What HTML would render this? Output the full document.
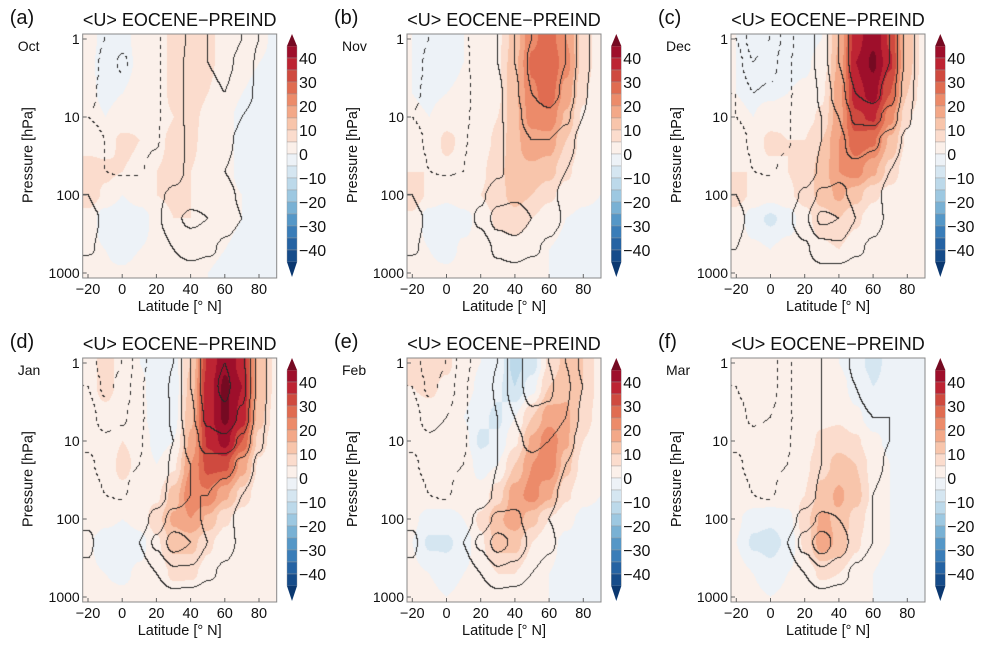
<!DOCTYPE html>
<html><head><meta charset="utf-8">
<style>
html,body{margin:0;padding:0;background:#fff;}
#wrap{position:relative;width:984px;height:654px;overflow:hidden;font-family:"Liberation Sans",sans-serif;}
canvas{position:absolute;}
svg{position:absolute;left:0;top:0;}
</style></head>
<body>
<div id="wrap">
<svg id="ov" width="984" height="654"></svg>
</div>
<script>
// ---- data ----
const lats = [-20,-10,0,10,20,30,40,50,60,70,80,90];
const pressures = [1,2,5,10,20,50,100,200,500,1000];
const panelLabels = ["(a)","(b)","(c)","(d)","(e)","(f)"];
const months = ["Oct","Nov","Dec","Jan","Feb","Mar"];
const xTicks = [-20,0,20,40,60,80];
const yTicks = [1,10,100,1000];
const cbLabels = [40,30,20,10,0,-10,-20,-30,-40];

const anomOct = [
[2,-2,-2,2,3,6,7,6,3,2,1,-1],[1,-2,-2,1,3,6,7,6,3,1,0,-1],[1,-1,0,2,3,6,7,5,2,0,-1,-2],
[2,0,2,4,3,5,6,4,1,-1,-2,-2],[3,3,6,5,4,6,6,3,1,-1,-2,-2],[7,6,5,4,5,6,5,3,1,-1,-2,-2],
[8,4,0,3,5,6,5,3,1,0,-2,-2],[3,-3,-5,-3,2,5,5,3,1,0,-2,-2],[1,0,-3,0,1,2,2,1,0,-1,-1,-1],
[1,1,1,3,1,0,0,0,-1,-1,-1,-1]];
const meanOct = [
[-5,-10,-15,-12,-12,2,12,20,25,20,10,0],[-5,-12,-22,-14,-12,2,14,20,22,18,8,0],[-8,-12,-15,-14,-12,2,14,18,20,15,8,0],
[-10,-12,-14,-14,-12,2,14,16,15,10,5,0],[-5,-10,-12,-13,-11,2,13,14,12,8,4,0],[0,-10,-11,-11,-6,6,12,12,10,7,4,0],
[10,0,-2,2,8,12,15,16,12,9,4,0],[15,8,2,5,8,18,22,20,14,10,4,0],[12,6,2,0,3,10,14,12,8,5,2,0],
[0,-2,-3,0,3,5,6,4,2,1,0,0]];
const anomNov = [
[0,-2,-2,0,2,4,12,24,28,20,8,2],[0,-2,-2,0,2,4,14,26,30,22,8,2],[0,-1,0,1,2,4,14,24,28,18,6,1],
[1,0,3,3,2,5,14,22,24,14,4,0],[2,2,6,4,3,6,14,18,18,10,3,0],[5,5,4,4,4,8,14,14,12,6,2,0],
[8,4,2,4,5,8,12,10,6,3,1,0],[4,-3,-5,-2,2,6,8,5,2,0,-1,-1],[2,0,-2,1,1,3,3,2,0,-1,-1,-1],
[1,1,1,2,1,1,1,0,0,-1,-1,-1]];
const meanNov = [
[-5,-10,-12,-12,-4,10,20,30,35,30,15,0],[-5,-12,-14,-13,-4,10,20,32,36,30,15,0],[-8,-12,-14,-13,-6,8,18,30,34,28,12,0],
[-10,-14,-14,-12,-6,8,16,26,28,22,10,0],[-5,-12,-12,-11,-4,8,14,20,20,15,6,0],[0,-10,-11,-10,-1,8,14,16,14,10,4,0],
[10,0,-2,2,8,16,18,16,12,8,3,0],[15,8,2,5,12,24,26,20,14,9,3,0],[12,6,2,0,4,12,16,12,8,4,1,0],
[0,-2,-3,0,3,6,6,4,2,1,0,0]];
const anomDec = [
[0,-2,-3,-2,-2,0,15,38,44,34,12,3],[0,-2,-3,-2,-1,2,16,40,46,36,12,3],[0,-1,-1,0,1,4,18,38,42,30,10,2],
[1,0,3,4,3,6,18,34,36,22,6,1],[2,3,6,5,5,10,20,28,26,14,4,0],[5,5,4,5,7,12,20,22,16,8,2,0],
[7,4,2,4,7,12,16,12,6,3,1,0],[3,-3,-6,-3,3,8,10,6,2,0,0,0],[2,1,0,2,2,4,5,2,1,0,0,0],
[1,1,1,2,2,2,2,1,0,0,0,0]];
const meanDec = [
[-20,-35,-30,-15,0,15,30,45,50,40,18,0],[-15,-30,-25,-12,0,15,30,45,50,40,18,0],[-10,-20,-18,-12,-2,12,25,40,44,35,15,0],
[-10,-14,-14,-11,-2,10,20,32,34,26,12,0],[-5,-12,-12,-11,-1,10,18,24,22,16,8,0],[0,-10,-11,-8,2,12,18,18,15,10,5,0],
[10,2,-2,4,12,22,22,18,12,8,3,0],[14,6,2,8,18,32,30,20,14,8,3,0],[10,4,2,2,8,16,18,12,8,4,1,0],
[0,-2,-3,0,4,7,6,4,2,1,0,0]];
const anomJan = [
[4,6,4,0,-4,-2,10,36,44,38,14,3],[4,6,4,2,-4,-3,12,38,46,40,14,3],[3,4,3,2,-3,-2,14,38,46,38,12,2],
[2,3,5,4,-2,0,16,36,42,30,8,1],[2,3,6,4,0,4,20,32,32,18,4,0],[4,4,4,3,4,12,24,24,16,8,2,0],
[4,2,0,2,8,16,20,14,6,2,0,0],[1,-4,-5,-2,4,12,12,6,2,0,0,0],[1,0,-1,1,2,6,6,3,1,0,0,0],
[1,1,1,2,2,2,1,1,0,0,0,0]];
const meanJan = [
[-25,-35,-30,-15,-2,10,30,45,50,42,18,0],[-20,-32,-28,-12,0,12,30,46,52,44,18,0],[-15,-25,-22,-12,-2,12,28,42,48,38,15,0],
[-12,-18,-15,-11,-2,10,24,36,38,28,12,0],[-8,-14,-12,-10,0,12,20,26,24,18,8,0],[-2,-10,-11,-6,4,14,20,20,15,10,5,0],
[8,2,-2,4,14,24,24,18,12,8,3,0],[12,4,2,10,22,34,30,20,14,8,3,0],[8,3,2,4,10,18,18,12,8,4,1,0],
[0,-2,-3,0,4,7,6,4,2,1,0,0]];
const anomFeb = [
[6,8,6,2,0,-2,-12,-8,6,12,10,3],[5,6,4,2,-1,-4,-10,-2,10,14,10,3],[3,3,2,0,-4,-6,0,10,18,16,8,2],
[2,2,4,2,-6,-4,4,16,24,16,5,1],[2,3,5,3,-2,0,10,20,24,12,3,0],[3,3,3,2,2,8,18,22,16,6,1,0],
[1,-2,-2,0,6,14,18,12,5,1,-1,-1],[0,-6,-6,-3,4,12,12,5,1,-1,-2,-2],[1,0,-2,0,2,5,5,2,0,-1,-4,-1],
[2,1,0,1,1,1,1,0,0,-1,-1,-1]];
const meanFeb = [
[-25,-35,-30,-15,-2,10,25,35,30,20,8,0],[-20,-32,-28,-12,0,12,25,35,32,22,10,0],[-15,-25,-20,-12,-2,10,20,28,28,20,8,0],
[-12,-18,-15,-11,-2,10,18,22,20,14,6,0],[-8,-14,-12,-10,0,10,16,18,16,10,4,0],[-2,-10,-11,-6,4,12,16,16,12,8,3,0],
[8,2,-2,4,14,22,22,16,10,6,2,0],[12,4,2,10,22,34,28,18,12,6,2,0],[8,3,2,4,10,18,16,10,6,3,1,0],
[0,-2,-3,0,4,7,6,4,2,1,0,0]];
const anomMar = [
[3,3,2,2,4,3,0,-4,-6,-4,-2,-1],[2,2,2,2,3,3,2,-2,-5,-4,-2,-1],[2,2,2,2,3,4,4,1,-2,-2,-1,-1],
[2,2,3,3,3,6,8,6,1,-1,-1,-1],[2,3,5,4,4,8,12,10,3,0,-1,-1],[4,4,4,3,5,12,16,12,4,0,-1,-1],
[1,-3,-4,-2,8,16,14,8,2,0,-1,-1],[0,-6,-7,-4,6,18,14,6,1,0,-2,-1],[2,0,-3,0,2,6,5,2,0,-1,-4,-1],
[3,1,0,1,1,1,1,0,0,-1,-1,-1]];
const meanMar = [
[-25,-30,-25,-12,0,10,15,8,5,8,8,0],[-20,-28,-25,-12,0,10,15,10,6,8,8,0],[-15,-22,-20,-12,-2,10,14,12,10,10,8,0],
[-12,-16,-14,-11,-2,10,14,14,12,10,6,0],[-8,-14,-12,-10,0,10,14,14,12,9,4,0],[-2,-10,-11,-6,4,12,14,12,10,7,3,0],
[6,0,-2,4,14,22,20,14,10,6,2,0],[10,2,2,10,24,36,26,16,10,6,2,0],[6,2,2,4,10,18,14,8,5,3,1,0],
[0,-2,-3,0,4,7,6,4,2,1,0,0]];
const anoms = [anomOct,anomNov,anomDec,anomJan,anomFeb,anomMar];
const means = [meanOct,meanNov,meanDec,meanJan,meanFeb,meanMar];

const colors = ["#0b3870","#164c8a","#2563a3","#3a7db8","#5597c7","#79b1d4","#9dc8e1","#bcd9ea","#d5e6f1","#edf2f7",
"#fbf0ea","#fbdccd","#f8c5ab","#f3a888","#ec8b6a","#e06c51","#cf4a3f","#bd2433","#9e0f2b","#750a22"];

// ---- layout ----
const PW=194, PH=244;
const lefts=[82.7,407,731], tops=[34,358];
function xOf(lat){return 5.3+(lat+20)*1.71;}
function yOf(p){return 5+78*Math.log10(p);}
function latOf(x){return (x-5.3)/1.71-20;}
function lpOf(y){return (y-5)/78;}
const lpLev = pressures.map(p=>Math.log10(p));

function sample(g,lat,lp){
  lat=Math.max(-20,Math.min(90,lat)); lp=Math.max(0,Math.min(3,lp));
  let i=Math.min(10,Math.floor((lat+20)/10)); let fx=(lat+20)/10-i; if(fx>1)fx=1;
  let j=0; while(j<lpLev.length-2 && lp>lpLev[j+1]) j++;
  let fy=(lp-lpLev[j])/(lpLev[j+1]-lpLev[j]);
  fx=fx*fx*(3-2*fx); fy=fy*fy*(3-2*fy);
  const a=g[j][i],b=g[j][i+1],c=g[j+1][i],d=g[j+1][i+1];
  return (a*(1-fx)+b*fx)*(1-fy)+(c*(1-fx)+d*fx)*fy;
}
function hex(h){return [parseInt(h.substr(1,2),16),parseInt(h.substr(3,2),16),parseInt(h.substr(5,2),16)];}
const rgb=colors.map(hex);
function colIdx(v){let k=Math.floor((v+50)/5); return Math.max(0,Math.min(19,k));}

const wrap=document.getElementById('wrap');
const ov=document.getElementById('ov');
const NS="http://www.w3.org/2000/svg";
function mk(tag,attrs,parent){const e=document.createElementNS(NS,tag);for(const k in attrs)e.setAttribute(k,attrs[k]);(parent||ov).appendChild(e);return e;}

for(let n=0;n<6;n++){
  const L=lefts[n%3], T=tops[Math.floor(n/3)];
  const cv=document.createElement('canvas');
  
  
  cv.width=PW; cv.height=PH; cv.style.left=L+'px'; cv.style.top=T+'px';
  wrap.insertBefore(cv,ov);
  const ctx=cv.getContext('2d'); const img=ctx.createImageData(PW,PH);
  const A=[],M=[];
  for(let y=0;y<PH;y++){A.push([]);M.push([]);for(let x=0;x<PW;x++){const la=latOf(x+0.5),lp=lpOf(y+0.5);A[y].push(sample(anoms[n],la,lp));M[y].push(sample(means[n],la,lp));}}
  for(let y=0;y<PH;y++)for(let x=0;x<PW;x++){
    const c=rgb[colIdx(A[y][x])]; let r=c[0],g=c[1],b=c[2];
    const m=M[y][x], k=Math.floor(m/10);
    let line=false, lev=0;
    if(x+1<PW){const k2=Math.floor(M[y][x+1]/10); if(k2!==k){line=true;lev=Math.max(k,k2)*10;}}
    if(!line&&y+1<PH){const k2=Math.floor(M[y+1][x]/10); if(k2!==k){line=true;lev=Math.max(k,k2)*10;}}
    if(line&&lev!==0){
      if(lev>0 || (Math.floor((x+y)/4)%2===0)){r=40;g=40;b=40;}
    }
    const o=(y*PW+x)*4; img.data[o]=r;img.data[o+1]=g;img.data[o+2]=b;img.data[o+3]=255;
  }
  ctx.putImageData(img,0,0);

  const G=mk('g',{});
  mk('rect',{x:L,y:T,width:PW,height:PH,fill:'none',stroke:'#888','stroke-width':1,},G);
  let t=mk('text',{x:L-73,y:T-10,'font-size':20,fill:'#111',},G);t.textContent=panelLabels[n];
  t=mk('text',{x:L+PW/2,y:T-8,'font-size':18,'text-anchor':'middle',fill:'#111',},G);t.textContent='<U> EOCENE\u2212PREIND';
  t=mk('text',{x:L-65,y:T+17,'font-size':14,fill:'#111',},G);t.textContent=months[n];
  for(const p of yTicks){
    const y=T+yOf(p);
    mk('line',{x1:L,x2:L+4,y1:y,y2:y,stroke:'#666',},G);
    t=mk('text',{x:L-3,y:y+5,'font-size':14,'text-anchor':'end',fill:'#111',},G);t.textContent=p;
  }
  for(const la of xTicks){
    const x=L+xOf(la);
    mk('line',{x1:x,x2:x,y1:T+PH,y2:T+PH-4,stroke:'#666',},G);
    t=mk('text',{x:x,y:T+PH+16,'font-size':14.5,'text-anchor':'middle',fill:'#111',},G);t.textContent=String(la).replace('-','\u2212');
  }
  t=mk('text',{x:L+PW/2,y:T+PH+33,'font-size':14.5,'text-anchor':'middle',fill:'#111',},G);t.textContent='Latitude [\u00b0 N]';
  t=mk('text',{x:0,y:0,'font-size':14.5,'text-anchor':'middle',fill:'#111',transform:`translate(${L-50},${T+PH/2-1}) rotate(-90)`,},G);t.textContent='Pressure [hPa]';
  const cx=L+PW+10.3, cb=mk('g',{},G);
  const top=T+12, bh=12;
  for(let i=0;i<18;i++){
    mk('rect',{x:cx,y:top+i*bh,width:10,height:bh,fill:colors[18-i],stroke:'#999','stroke-width':0.4,},cb);
  }
  mk('polygon',{points:`${cx},${top} ${cx+10},${top} ${cx+5},${T}`,fill:colors[19],},cb);
  mk('polygon',{points:`${cx},${top+18*bh} ${cx+10},${top+18*bh} ${cx+5},${T+PH-1}`,fill:colors[0],},cb);
  for(const v of cbLabels){
    const y=top+(45-v)/5*bh;
    t=mk('text',{x:cx+12,y:y+6,'font-size':16,fill:'#111',},cb);t.textContent=String(v).replace('-','\u2212');
  }
}
</script>
</body></html>
